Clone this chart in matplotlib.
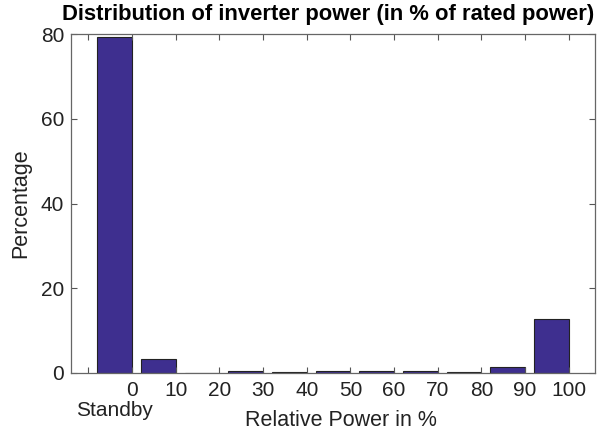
import numpy as np
import matplotlib; matplotlib.use("Agg")
import matplotlib.pyplot as plt
from matplotlib.transforms import ScaledTranslation

plt.rcParams["font.family"] = ["Liberation Sans", "DejaVu Sans"]

# data
bins = ["Standby", "0-10", "10-20", "20-30", "30-40", "40-50",
        "50-60", "60-70", "70-80", "80-90", "90-100"]
share = [79.2, 3.2, 0.05, 0.45, 0.2, 0.45, 0.45, 0.4, 0.2, 1.4, 12.7]
edge_labels = ["", "0", "10", "20", "30", "40", "50", "60", "70", "80", "90", "100"]
yticks = [0, 20, 40, 60, 80]

fig = plt.figure(figsize=(5.99, 4.33), dpi=100)
ax = fig.add_axes([71/599, 1 - 373/433, 524/599, 339/433])

x = np.arange(1, len(share) + 1)
ax.bar(x, share, width=0.8, color="#3e2f8f", edgecolor="#222222", linewidth=0.8)

# ticks at right bar edges, labels nudged right like the original
tick_pos = np.arange(0, len(share) + 1) + 0.4
ax.set_xticks(tick_pos)
ax.set_xticklabels(edge_labels)
for lab in ax.get_xticklabels():
    lab.set_transform(lab.get_transform() + ScaledTranslation(5/100, 0, fig.dpi_scale_trans))
ax.set_xlim(0, 12)
ax.set_ylim(0, 80)
ax.set_yticks(yticks)

ax.tick_params(direction="in", length=4, width=0.8, color="#555555",
               labelsize=15, labelcolor="#222222", top=True, right=True)
ax.tick_params(axis="x", pad=6)
ax.tick_params(axis="y", pad=5)
for s in ax.spines.values():
    s.set_color("#666666"); s.set_linewidth(0.9)

ax.text(1, -0.11, "Standby", transform=ax.get_xaxis_transform(), ha="center", va="center",
        fontsize=15, color="#222222")
ax.set_xlabel("Relative Power in %", fontsize=15.5, color="#222222")
ax.xaxis.set_label_coords(0.515, -0.14)
ax.xaxis.label.set_va("center")
ax.set_ylabel("Percentage", fontsize=15.5, color="#222222", labelpad=7)
ax.set_title("Distribution of inverter power (in % of rated power)",
             fontsize=15.8, fontweight="bold", pad=10, x=0.49)

fig.savefig("out.png", dpi=100)
